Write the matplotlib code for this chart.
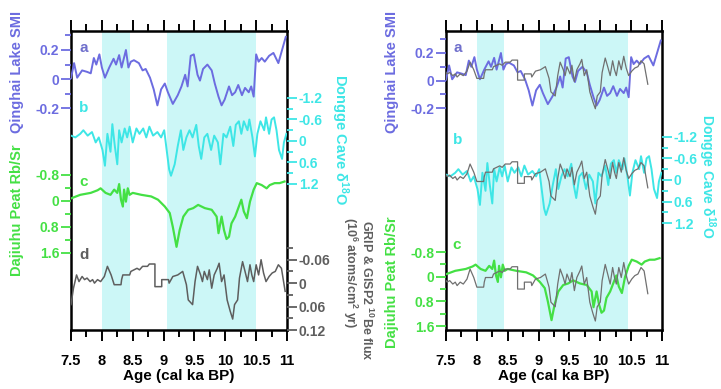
"""Holocene monsoon proxies vs. GRIP/GISP2 10Be flux, 7.5-11 cal ka BP."""

import matplotlib

matplotlib.use("Agg")
import matplotlib.pyplot as plt
from matplotlib.ticker import MultipleLocator

plt.rcParams["font.family"] = ["Liberation Sans", "DejaVu Sans"]
plt.rcParams["font.weight"] = "bold"
plt.rcParams["axes.unicode_minus"] = False
plt.rcParams["mathtext.fontset"] = "custom"
plt.rcParams["mathtext.rm"] = "Liberation Sans:bold"
plt.rcParams["mathtext.it"] = "Liberation Sans:bold:italic"
plt.rcParams["mathtext.bf"] = "Liberation Sans:bold"
plt.rcParams["mathtext.default"] = "regular"

# --- data -------------------------------------------------------------------
# (a) Qinghai Lake SMI
smi_age = [7.50, 7.55, 7.60, 7.68, 7.76, 7.82, 7.87, 7.91, 7.96, 8.00, 8.05, 8.12,
           8.19, 8.23, 8.28, 8.32, 8.39, 8.43, 8.47, 8.52, 8.60, 8.66, 8.71, 8.78,
           8.84, 8.90, 8.96, 9.02, 9.07, 9.15, 9.23, 9.29, 9.35, 9.39, 9.44, 9.49,
           9.55, 9.59, 9.64, 9.71, 9.78, 9.83, 9.89, 9.94, 9.99, 10.06, 10.11, 10.16,
           10.21, 10.27, 10.32, 10.38, 10.42, 10.46, 10.50, 10.54, 10.59, 10.64,
           10.71, 10.78, 10.86, 10.92, 10.98]
smi = [0.007, 0.11, 0.01, 0.06, 0.05, 0.04, 0.145, 0.10, 0.17, 0.08, 0.01, 0.08,
       0.14, 0.10, 0.165, 0.08, 0.20, 0.08, 0.12, 0.13, 0.11, 0.06, 0.07, 0.01,
       -0.07, -0.18, -0.07, -0.03, -0.09, -0.17, -0.11, -0.05, 0.03, -0.05, 0.16, 0.17,
       0.03, -0.01, 0.07, 0.10, 0.06, -0.03, -0.12, -0.18, -0.14, -0.05, -0.11, -0.09,
       -0.04, -0.11, -0.06, -0.09, -0.05, -0.12, 0.17, 0.12, 0.145, 0.12,
       0.16, 0.18, 0.11, 0.20, 0.29]

# (b) Dongge Cave d18O
dongge_age = [7.50, 7.57, 7.65, 7.70, 7.77, 7.84, 7.90, 7.95, 8.01, 8.05, 8.09, 8.14,
              8.17, 8.21, 8.25, 8.28, 8.32, 8.37, 8.41, 8.45, 8.50, 8.56, 8.61, 8.67,
              8.72, 8.77, 8.83, 8.90, 8.96, 9.01, 9.05, 9.09, 9.12, 9.18, 9.23, 9.28,
              9.32, 9.37, 9.42, 9.47, 9.53, 9.57, 9.61, 9.66, 9.71, 9.77, 9.82, 9.88,
              9.92, 9.97, 10.02, 10.08, 10.13, 10.17, 10.22, 10.26, 10.30, 10.36,
              10.39, 10.44, 10.48, 10.52, 10.57, 10.63, 10.66, 10.71, 10.75, 10.79,
              10.83, 10.87, 10.92, 10.95, 10.99]
dongge = [-0.15, -0.10, -0.20, -0.30, -0.15, -0.25, 0.04, -0.10, 0.25, 0.69, -0.20, 0.30,
          -0.47, 0.14, 0.65, -0.30, 0.04, -0.35, -0.10, -0.40, 0.04, -0.35, -0.20, -0.35,
          -0.10, -0.40, -0.15, -0.25, -0.10, -0.30, 0.25, 0.79, 0.97, 0.65, 0.14, -0.30,
          0.25, -0.10, -0.30, -0.10, -0.45, 0.14, 0.50, -0.10, -0.20, 0.25, -0.15, 0.04,
          0.65, -0.20, -0.10, -0.40, 0.14, -0.45, -0.55, -0.20, -0.55, -0.30,
          -0.60, -0.10, 0.43, -0.20, -0.55, -0.30, -0.66, -0.20, -0.60, -0.66,
          -0.30, 0.25, 0.50, 0.04, -0.20]

# (c) Dajiuhu Peat Rb/Sr
rbsr_age = [7.50, 7.65, 7.82, 7.93, 7.98, 8.06, 8.14, 8.20, 8.25, 8.28, 8.31, 8.34,
            8.36, 8.39, 8.42, 8.45, 8.50, 8.64, 8.80, 8.91, 9.02, 9.10, 9.15, 9.21,
            9.26, 9.32, 9.40, 9.48, 9.56, 9.67, 9.78, 9.86, 9.89, 9.94, 9.98, 10.02,
            10.06, 10.10, 10.16, 10.21, 10.26, 10.30, 10.35, 10.40, 10.46, 10.51,
            10.59, 10.67, 10.72, 10.80, 10.88, 10.96]
rbsr = [-0.08, -0.19, -0.25, -0.33, -0.39, -0.25, -0.19, -0.35, -0.25, -0.52, -0.04, 0.17,
        -0.35, 0.02, -0.39, -0.19, -0.25, -0.19, -0.14, -0.04, 0.17, 0.37, 0.80, 1.41,
        0.90, 0.48, 0.27, 0.22, 0.12, 0.22, 0.27, 0.48, 0.99, 0.48, 0.90, 1.17,
        1.10, 0.69, 0.48, 0.22, -0.04, 0.32, 0.53, 0.02, -0.35, -0.55,
        -0.49, -0.39, -0.49, -0.55, -0.55, -0.60]

# (d) GRIP & GISP2 10Be flux (10^6 atoms/cm2 yr)
be_age = [7.50, 7.54, 7.59, 7.63, 7.68, 7.72, 7.76, 7.81, 7.85, 7.88, 7.93, 7.98,
          8.04, 8.09, 8.15, 8.20, 8.31, 8.32, 8.34, 8.45, 8.47, 8.52, 8.57, 8.61,
          8.66, 8.74, 8.77, 8.86, 8.86, 8.97, 8.97, 9.08, 9.09, 9.15, 9.23, 9.31,
          9.37, 9.40, 9.47, 9.51, 9.55, 9.60, 9.63, 9.66, 9.71, 9.74, 9.78, 9.82,
          9.87, 9.90, 9.94, 9.98, 10.03, 10.08, 10.12, 10.15, 10.20, 10.23, 10.28,
          10.32, 10.36, 10.40, 10.43, 10.46, 10.50, 10.54, 10.58, 10.62, 10.66,
          10.71, 10.76, 10.81, 10.86, 10.91, 10.97]
be_flux = [0.055, 0.013, -0.021, -0.004, -0.017, -0.009, -0.013, -0.004, -0.009, 0.0, -0.009, -0.004,
           -0.017, -0.043, -0.021, 0.004, 0.004, -0.009, -0.021, -0.021, -0.030, -0.034, -0.038, -0.034,
           -0.043, -0.043, -0.049, -0.049, 0.009, 0.009, -0.009, -0.009, 0.0, -0.017, -0.021, -0.030,
           0.004, 0.043, 0.055, -0.004, -0.043, -0.021, -0.004, -0.030, -0.009, -0.034, 0.013, -0.021,
           -0.038, -0.051, -0.004, -0.021, 0.043, 0.072, 0.092, 0.055, 0.043, -0.013, -0.055,
           -0.030, -0.004, -0.047, -0.021, -0.004, -0.047, -0.021, -0.060, -0.026, -0.004,
           -0.017, -0.026, -0.030, -0.047, -0.038, 0.021]
be_lag = 0.2  # 10Be record moved 200 yr younger in the right-hand comparison

bands_left = [(8.0, 8.45), (9.05, 10.5)]
bands_right = [(8.0, 8.44), (9.02, 10.45)]

age_ticks = [7.5, 8, 8.5, 9, 9.5, 10, 10.5, 11]
age_labels = ["7.5", "8", "8.5", "9", "9.5", "10", "10.5", "11"]
smi_ticks, smi_labels = [-0.2, 0, 0.2], ["-0.2", "0", "0.2"]
dongge_ticks, dongge_labels = [-1.2, -0.6, 0, 0.6, 1.2], ["-1.2", "-0.6", "0", "0.6", "1.2"]
rbsr_ticks, rbsr_labels = [-0.8, 0, 0.8, 1.6], ["-0.8", "0", "0.8", "1.6"]
be_ticks, be_labels = [-0.06, 0, 0.06, 0.12], ["-0.06", "0", "0.06", "0.12"]

BLUE = "#6c6ce0"
CYAN = "#3ee6e6"
GREEN = "#44e044"
GREY = "#5e5e5e"
BAND = "#ccf7f7"

W, H = 721, 389
TOP, BOTTOM = 31, 330

fig = plt.figure(figsize=(W / 100, H / 100), dpi=100)


def rect(x0, x1):
    return [x0 / W, 1 - BOTTOM / H, (x1 - x0) / W, (BOTTOM - TOP) / H]


def ylim_from(v0, p0, v1, p1):
    """Axis limits so that value v0 sits at pixel row p0 and v1 at p1."""
    k = (v1 - v0) / (p1 - p0)
    return v0 + (BOTTOM - p0) * k, v0 + (TOP - p0) * k


def bold_ticks(ax):
    for t in ax.get_xticklabels() + ax.get_yticklabels():
        t.set_fontweight("bold")


def frame(x0, x1, bands):
    ax = fig.add_axes(rect(x0, x1))
    ax.set_xlim(7.5, 11)
    ax.set_ylim(0, 1)
    ax.set_yticks([])
    for lo, hi in bands:
        ax.axvspan(lo, hi, color=BAND, lw=0)
    ax.set_xticks(age_ticks, age_labels)
    ax.xaxis.set_minor_locator(MultipleLocator(0.25))
    ax.tick_params(axis="x", which="both", direction="out", top=True, bottom=True,
                   width=1.4, labelsize=10.5, pad=9)
    ax.tick_params(axis="x", which="major", length=8)
    ax.tick_params(axis="x", which="minor", length=5)
    for s in ax.spines.values():
        s.set_linewidth(1.8)
    ax.set_xlabel("Age (cal ka BP)", fontsize=11, fontweight="bold", labelpad=1)
    bold_ticks(ax)
    return ax


def layer(x0, x1, lim, side=None, ticks=None, labels=None, minor=None, color="k"):
    ax = fig.add_axes(rect(x0, x1), facecolor="none")
    ax.set_xlim(7.5, 11)
    ax.set_ylim(*lim)
    for s in ax.spines.values():
        s.set_visible(False)
    ax.tick_params(axis="x", which="both", bottom=False, top=False, labelbottom=False)
    if side is None:
        ax.set_yticks([])
        return ax
    ax.yaxis.set_ticks_position(side)
    ax.set_yticks(ticks, labels)
    ax.set_yticks(minor, minor=True)
    ax.tick_params(axis="y", which="both", direction="out", colors=color,
                   width=1.3, labelsize=10, pad=1.5)
    ax.tick_params(axis="y", which="major", length=7)
    ax.tick_params(axis="y", which="minor", length=4)
    bold_ticks(ax)
    return ax


def label(x, y, text, color, rot=90, size=10.5):
    fig.text(x / W, 1 - y / H, text, color=color, rotation=rot, fontsize=size,
             fontweight="bold", ha="center", va="center", rotation_mode="anchor")


def letter(x, y, text, color):
    fig.text(x / W, 1 - y / H, text, color=color, fontsize=11, fontweight="bold",
             ha="center", va="center")


# --- left panel -------------------------------------------------------------
L0, L1 = 71, 287
frame(L0, L1, bands_left)

ax = layer(L0, L1, ylim_from(0.2, 50, -0.2, 108.3), "left", smi_ticks, smi_labels,
           [-0.1, 0.1, 0.3], BLUE)
ax.plot(smi_age, smi, color=BLUE, lw=1.4)

ax = layer(L0, L1, ylim_from(-1.2, 98, 1.2, 184), "right", dongge_ticks, dongge_labels,
           [-0.9, -0.3, 0.3, 0.9], CYAN)
ax.plot(dongge_age, dongge, color=CYAN, lw=1.4)

ax = layer(L0, L1, ylim_from(-0.8, 175, 1.6, 253), "left", rbsr_ticks, rbsr_labels,
           [-0.4, 0.4, 1.2], GREEN)
ax.plot(rbsr_age, rbsr, color=GREEN, lw=1.6)

ax = layer(L0, L1, ylim_from(-0.06, 262, 0.12, 333), "right", be_ticks, be_labels,
           [-0.09, -0.03, 0.03, 0.09], GREY)
ax.plot(be_age, be_flux, color=GREY, lw=1.1)

letter(84, 48, "a", "#7070cc")
letter(84, 108, "b", CYAN)
letter(84, 182, "c", GREEN)
letter(84, 255, "d", GREY)

label(17, 72, "Qinghai Lake SMI", BLUE)
label(17, 210, "Dajiuhu Peat Rb/Sr", GREEN)
label(340, 140, r"Dongge Cave δ$^{18}$O", CYAN, rot=-90)
label(367, 290, r"GRIP & GISP2 $^{10}$Be flux", GREY, rot=-90, size=9)
label(350, 273, r"(10$^6$ atoms/cm$^2$ yr)", GREY, rot=-90, size=9)

# --- right panel ------------------------------------------------------------
R0, R1 = 446, 662
frame(R0, R1, bands_right)
be_age_lagged = [t - be_lag for t in be_age]

ax = layer(R0, R1, ylim_from(0.2, 53, -0.2, 108.3), "left", smi_ticks, smi_labels,
           [-0.1, 0.1, 0.3], BLUE)
ax.plot(smi_age, smi, color=BLUE, lw=1.4)
ax = layer(R0, R1, ylim_from(0, 77, 0.06, 97.7))
ax.plot(be_age_lagged, be_flux, color="#707070", lw=0.9)

ax = layer(R0, R1, ylim_from(-1.2, 136.7, 1.2, 223.3), "right", dongge_ticks, dongge_labels,
           [-0.9, -0.3, 0.3, 0.9], CYAN)
ax.plot(dongge_age, dongge, color=CYAN, lw=1.4)
ax = layer(R0, R1, ylim_from(0, 180, 0.06, 202.3))
ax.plot(be_age_lagged, be_flux, color="#707070", lw=0.9)

ax = layer(R0, R1, ylim_from(-0.8, 252, 1.6, 326), "left", rbsr_ticks, rbsr_labels,
           [-0.4, 0.4, 1.2], GREEN)
ax.plot(rbsr_age, rbsr, color=GREEN, lw=1.6)
ax = layer(R0, R1, ylim_from(0, 285.6, 0.06, 308.7))
ax.plot(be_age_lagged, be_flux, color="#707070", lw=0.9)

letter(458, 48, "a", "#7070cc")
letter(458, 140, "b", CYAN)
letter(457, 245, "c", GREEN)

label(392, 72, "Qinghai Lake SMI", BLUE)
label(392, 282, "Dajiuhu Peat Rb/Sr", GREEN)
label(707, 176, r"Dongge Cave δ$^{18}$O", CYAN, rot=-90, size=10)

fig.savefig("out.png", dpi=100)
